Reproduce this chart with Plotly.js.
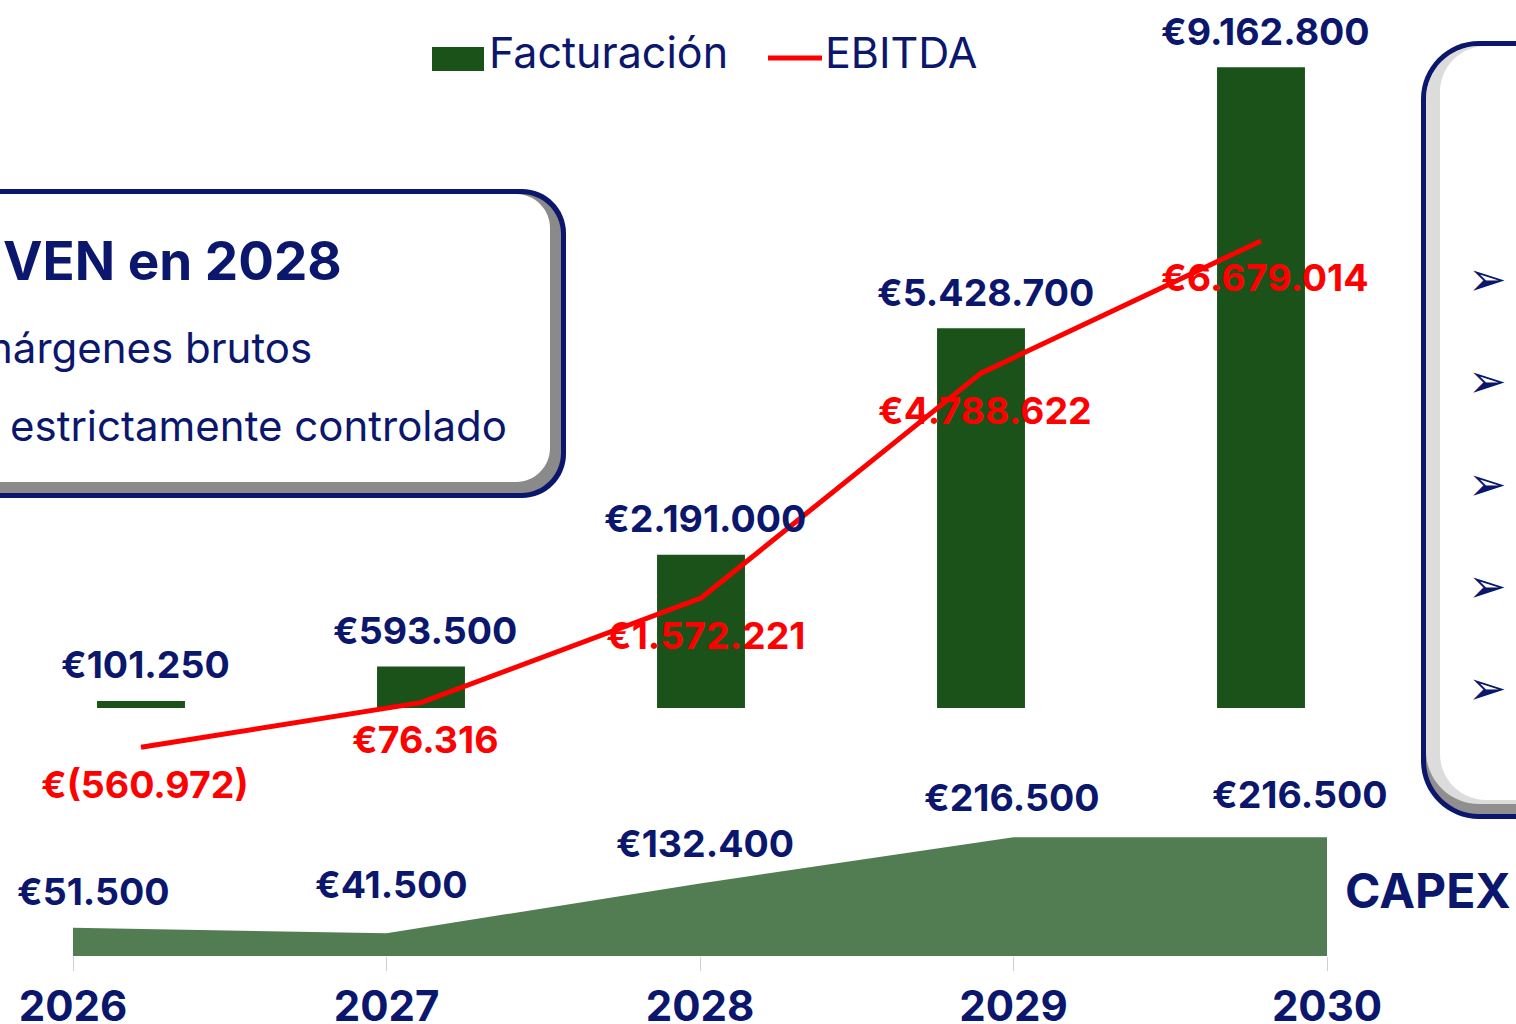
<!DOCTYPE html>
<html><head><meta charset="utf-8">
<script src="https://cdn.plot.ly/plotly-3.0.1.min.js"></script>
<style>html,body{margin:0;padding:0;background:#fff;overflow:hidden}#chart{width:1516px;height:1024px}</style>
</head><body><div id="chart"></div>
<script>
const years = ['2026', '2027', '2028', '2029', '2030'];
const facturacion = [101250, 593500, 2191000, 5428700, 9162800];
const ebitda = [-560972, 76316, 1572221, 4788622, 6679014];
const capex = [51500, 41500, 132400, 216500, 216500];
const legendLabels = ['Facturación', 'EBITDA'];
const capexLabel = 'CAPEX';
const boxTitle = 'VEN en 2028';
const boxLines = ['márgenes brutos', 'estrictamente controlado'];
const bulletCount = 5;

const W = 1516, H = 1024;
const px = x => x / W;
const py = y => 1 - y / H;
const NAVY = '#0b176c', GREEN = '#1a521a', AREA = '#527d52', RED = '#ff0000';
const FONT = 'Inter, Roboto, sans-serif';

function fmt(v) {
  const s = Math.abs(v).toString().replace(/\B(?=(\d{3})+(?!\d))/g, '.');
  return v < 0 ? '€(' + s + ')' : '€' + s;
}
function rr(x0, y0, x1, y1, r) {
  const k = 0.45;
  return `M ${px(x0 + r)} ${py(y0)} L ${px(x1 - r)} ${py(y0)} ` +
    `C ${px(x1 - r * k)} ${py(y0)} ${px(x1)} ${py(y0 + r * k)} ${px(x1)} ${py(y0 + r)} ` +
    `L ${px(x1)} ${py(y1 - r)} C ${px(x1)} ${py(y1 - r * k)} ${px(x1 - r * k)} ${py(y1)} ${px(x1 - r)} ${py(y1)} ` +
    `L ${px(x0 + r)} ${py(y1)} C ${px(x0 + r * k)} ${py(y1)} ${px(x0)} ${py(y1 - r * k)} ${px(x0)} ${py(y1 - r)} ` +
    `L ${px(x0)} ${py(y0 + r)} C ${px(x0)} ${py(y0 + r * k)} ${px(x0 + r * k)} ${py(y0)} ${px(x0 + r)} ${py(y0)} Z`;
}
function box(x0, y0, x1, y1, r, fill) {
  return {type: 'path', xref: 'paper', yref: 'paper', path: rr(x0, y0, x1, y1, r),
          fillcolor: fill, line: {width: 0}, layer: 'below'};
}

const traces = [
  {type: 'bar', x: years, y: facturacion, xaxis: 'x', yaxis: 'y',
   marker: {color: GREEN, line: {width: 0}}, hoverinfo: 'skip', name: legendLabels[0]},
  {type: 'scatter', mode: 'lines', x: years, y: ebitda, xaxis: 'x', yaxis: 'y',
   line: {color: RED, width: 5}, cliponaxis: false, hoverinfo: 'skip', name: legendLabels[1]},
  {type: 'scatter', mode: 'lines', x: years, y: capex, xaxis: 'x2', yaxis: 'y2',
   fill: 'tozeroy', fillcolor: AREA, line: {color: AREA, width: 0}, hoverinfo: 'skip', name: capexLabel}
];

const annotations = [];
const bold = (size, color) => ({family: FONT, size: size, color: color, weight: 700});
years.forEach((yr, i) => {
  annotations.push({x: i, y: facturacion[i], xref: 'x', yref: 'y', text: fmt(facturacion[i]),
    showarrow: false, xanchor: 'center', yanchor: 'middle', yshift: 36, xshift: 4, font: bold(37.5, NAVY)});
  annotations.push({x: i, y: ebitda[i], xref: 'x', yref: 'y', text: fmt(ebitda[i]),
    showarrow: false, xanchor: 'center', yanchor: 'middle', yshift: -37, xshift: 4, font: bold(37.5, RED)});
});
const cdx = [20, 5, 5, -2, -27], cdy = [36, 49, 40, 40, 43];
years.forEach((yr, i) => {
  annotations.push({x: i, y: capex[i], xref: 'x2', yref: 'y2', text: fmt(capex[i]),
    showarrow: false, xanchor: 'center', yanchor: 'middle', yshift: cdy[i], xshift: cdx[i], font: bold(37.5, NAVY)});
});
// legend
annotations.push({x: px(487), y: py(52), xref: 'paper', yref: 'paper', text: legendLabels[0],
  showarrow: false, xanchor: 'left', yanchor: 'middle', font: {family: FONT, size: 43, color: NAVY}});
annotations.push({x: px(823), y: py(52), xref: 'paper', yref: 'paper', text: legendLabels[1],
  showarrow: false, xanchor: 'left', yanchor: 'middle', font: {family: FONT, size: 43, color: NAVY}});
// CAPEX label
annotations.push({x: px(1428), y: py(890), xref: 'paper', yref: 'paper', text: capexLabel,
  showarrow: false, xanchor: 'center', yanchor: 'middle', font: bold(48, NAVY)});
// left box text
annotations.push({x: px(1), y: py(261), xref: 'paper', yref: 'paper', text: boxTitle,
  showarrow: false, xanchor: 'left', yanchor: 'middle', font: bold(53, NAVY)});
annotations.push({x: px(314), y: py(347), xref: 'paper', yref: 'paper', text: boxLines[0],
  showarrow: false, xanchor: 'right', yanchor: 'middle', font: {family: FONT, size: 42, color: NAVY}});
annotations.push({x: px(8), y: py(425), xref: 'paper', yref: 'paper', text: boxLines[1],
  showarrow: false, xanchor: 'left', yanchor: 'middle', font: {family: FONT, size: 42, color: NAVY}});
// bullets in right box
for (let i = 0; i < bulletCount; i++) {
  annotations.push({x: px(1487), y: py(279 + i * 102.3), xref: 'paper', yref: 'paper', text: '➢',
    showarrow: false, xanchor: 'center', yanchor: 'middle',
    font: {family: 'DejaVu Sans', size: 46, color: NAVY}});
}

const shapes = [
  box(-80, 189, 566, 498, 44, NAVY),
  box(-75, 194, 561, 493, 40, '#8a8a8a'),
  box(-75, 194, 550, 482, 34, '#ffffff'),
  box(1421, 41, 1640, 819, 58, NAVY),
  box(1426, 46, 1640, 814, 53, '#8f8f8f'),
  box(1426, 46, 1640, 804, 53, '#dcdcdc'),
  box(1440, 46, 1640, 800, 46, '#ffffff'),
  {type: 'rect', xref: 'paper', yref: 'paper', x0: px(432), x1: px(484), y0: py(71), y1: py(47),
   fillcolor: GREEN, line: {width: 0}},
  {type: 'line', xref: 'paper', yref: 'paper', x0: px(768), x1: px(822), y0: py(58), y1: py(58),
   line: {color: RED, width: 5}}
];

const layout = {
  width: W, height: H, margin: {l: 0, r: 0, t: 0, b: 0},
  paper_bgcolor: '#ffffff', plot_bgcolor: 'rgba(0,0,0,0)', showlegend: false,
  bargap: 0.686,
  xaxis: {domain: [px(1), px(1401)], type: 'category', range: [-0.5, 4.5], visible: false},
  yaxis: {domain: [py(760), 1], range: [-(760 - 708) * 14300, 708 * 14300], visible: false},
  xaxis2: {domain: [px(73), px(1327)], anchor: 'y2', type: 'category', range: [0, 4],
    showgrid: false, zeroline: false, showline: false, ticks: 'outside', ticklen: 14,
    tickwidth: 1, tickcolor: '#cfcfcf', tickfont: bold(42, NAVY)},
  yaxis2: {domain: [py(956), py(780)], range: [0, 176 * 1824], visible: false},
  annotations: annotations,
  shapes: shapes
};

Plotly.newPlot('chart', traces, layout, {staticPlot: true, displayModeBar: false});
</script>
</body></html>
